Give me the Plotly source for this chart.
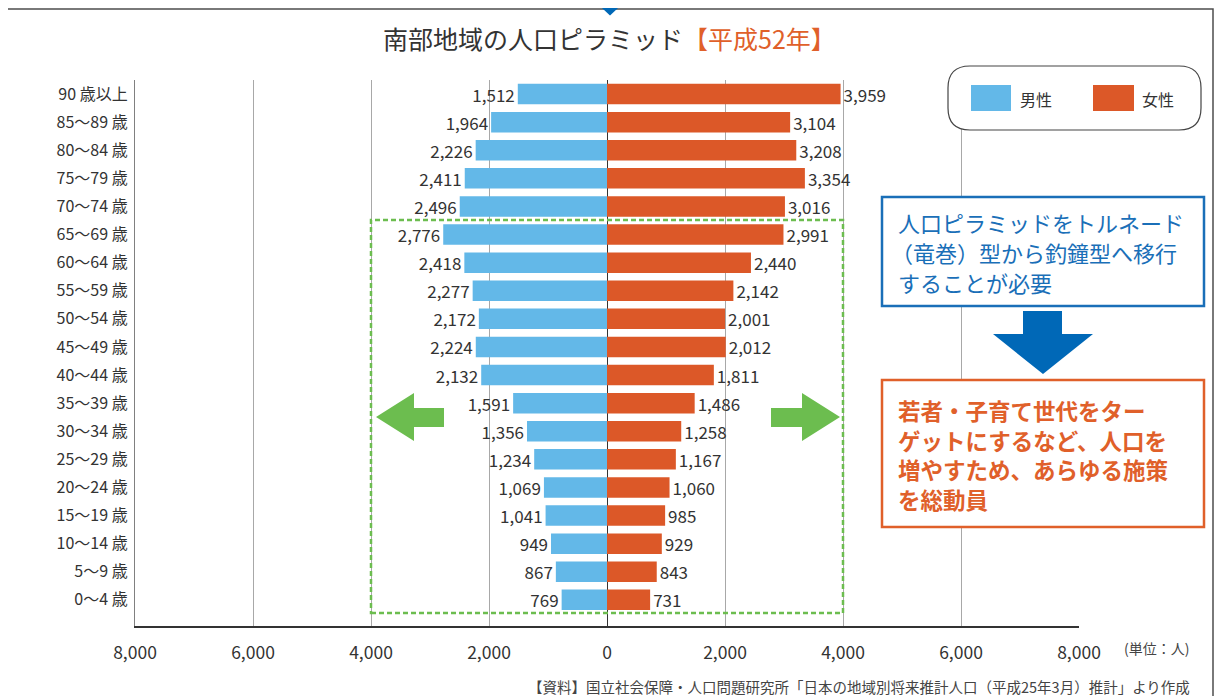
import plotly.graph_objects as go

# ---------------- data ----------------
age_groups = ["90 歳以上", "85〜89 歳", "80〜84 歳", "75〜79 歳", "70〜74 歳",
              "65〜69 歳", "60〜64 歳", "55〜59 歳", "50〜54 歳", "45〜49 歳",
              "40〜44 歳", "35〜39 歳", "30〜34 歳", "25〜29 歳", "20〜24 歳",
              "15〜19 歳", "10〜14 歳", "5〜9 歳", "0〜4 歳"]
male = [1512, 1964, 2226, 2411, 2496, 2776, 2418, 2277, 2172, 2224,
        2132, 1591, 1356, 1234, 1069, 1041, 949, 867, 769]
female = [3959, 3104, 3208, 3354, 3016, 2991, 2440, 2142, 2001, 2012,
          1811, 1486, 1258, 1167, 1060, 985, 929, 843, 731]
x_tickvals = [-8000, -6000, -4000, -2000, 0, 2000, 4000, 6000, 8000]
x_ticktext = ["8,000", "6,000", "4,000", "2,000", "0", "2,000", "4,000", "6,000", "8,000"]
series_names = ["男性", "女性"]

title_main = "南部地域の人口ピラミッド"
title_year = "【平成52年】"
box1_lines = ["人口ピラミッドをトルネード", "（竜巻）型から釣鐘型へ移行", "することが必要"]
box2_lines = ["若者・子育て世代をター", "ゲットにするなど、人口を", "増やすため、あらゆる施策", "を総動員"]
unit_text = "(単位：人)"
source_text = "【資料】国立社会保障・人口問題研究所「日本の地域別将来推計人口（平成25年3月）推計」より作成"

# ---------------- styles ----------------
FONT = "Noto Sans CJK JP, Noto Sans, sans-serif"
BLUE = "#63b8e8"
ORANGE = "#dc5828"
DARK = "#333333"
GRID = "#a8a8a8"
GREEN = "#6cbd4f"
NAVY = "#0068b7"
BOXBLUE = "#1a6fb8"
BOXORANGE = "#e0602a"

OFF = 8  # page body margin
W, H = 1226 - OFF, 696 - OFF
L, R, T, B = 135 - OFF, 147, 80 - OFF, 70
PW, PH = W - L - R, H - T - B


def px(x):
    return (x - OFF - L) / PW


def py(y):
    return (H - B - (y - OFF)) / PH


fig = go.Figure()
fig.add_trace(go.Bar(
    y=age_groups, x=[-v for v in male], orientation="h", name=series_names[0],
    marker=dict(color=BLUE, line=dict(width=0)), width=0.73,
    text=[f"{v:,}" for v in male], textposition="outside", constraintext="none",
    textfont=dict(family=FONT, size=17, color=DARK), cliponaxis=False,
    customdata=male, hovertemplate="%{y}<br>男性: %{customdata:,}<extra></extra>",
    showlegend=False,
))
fig.add_trace(go.Bar(
    y=age_groups, x=female, orientation="h", name=series_names[1],
    marker=dict(color=ORANGE, line=dict(width=0)), width=0.73,
    text=[f"{v:,}" for v in female], textposition="outside", constraintext="none",
    textfont=dict(family=FONT, size=17, color=DARK), cliponaxis=False,
    hovertemplate="%{y}<br>女性: %{x:,}<extra></extra>",
    showlegend=False,
))

shapes = []
# outer frame
shapes.append(dict(type="rect", xref="paper", yref="paper",
                   x0=px(7), x1=px(1213), y0=py(720), y1=py(9),
                   line=dict(color="#4d4d4d", width=1.5), layer="below"))
# blue triangle at top
shapes.append(dict(type="path", xref="paper", yref="paper",
                   path=f"M {px(588)},{py(-5)} L {px(632)},{py(-5)} L {px(610)},{py(15.5)} Z",
                   fillcolor=NAVY, line=dict(width=0), layer="above"))
# white underlay on green box vertical edges (hide grid)
for xv in (-4000, 4000):
    shapes.append(dict(type="line", xref="x", yref="paper", x0=xv, x1=xv,
                       y0=py(613), y1=py(220), line=dict(color="white", width=3),
                       layer="between"))
# green dashed box
shapes.append(dict(type="rect", xref="x", yref="paper", x0=-4000, x1=4000,
                   y0=py(613), y1=py(220),
                   line=dict(color=GREEN, width=2.5, dash="5px,3px"), layer="above"))
# green arrows
shapes.append(dict(type="path", xref="paper", yref="paper",
                   path=(f"M {px(376)},{py(417)} L {px(414)},{py(393)} L {px(414)},{py(408)} "
                         f"L {px(444)},{py(408)} L {px(444)},{py(427)} L {px(414)},{py(427)} "
                         f"L {px(414)},{py(441)} Z"),
                   fillcolor=GREEN, line=dict(width=0), layer="above"))
shapes.append(dict(type="path", xref="paper", yref="paper",
                   path=(f"M {px(840)},{py(417)} L {px(802)},{py(393)} L {px(802)},{py(408)} "
                         f"L {px(771)},{py(408)} L {px(771)},{py(427)} L {px(802)},{py(427)} "
                         f"L {px(802)},{py(441)} Z"),
                   fillcolor=GREEN, line=dict(width=0), layer="above"))

# legend rounded box
x0, x1, y0, y1, r = 948, 1201, 66, 130, 22
rx, ry = r / PW, r / PH
lx0, lx1, ly0, ly1 = px(x0), px(x1), py(y1), py(y0)
shapes.append(dict(type="path", xref="paper", yref="paper",
                   path=(f"M {lx0+rx},{ly1} L {lx1-rx},{ly1} Q {lx1},{ly1} {lx1},{ly1-ry} "
                         f"L {lx1},{ly0+ry} Q {lx1},{ly0} {lx1-rx},{ly0} "
                         f"L {lx0+rx},{ly0} Q {lx0},{ly0} {lx0},{ly0+ry} "
                         f"L {lx0},{ly1-ry} Q {lx0},{ly1} {lx0+rx},{ly1} Z"),
                   fillcolor="white", line=dict(color="#444444", width=1.2), layer="above"))
shapes.append(dict(type="rect", xref="paper", yref="paper",
                   x0=px(971), x1=px(1011), y0=py(111), y1=py(85),
                   fillcolor=BLUE, line=dict(width=0), layer="above"))
shapes.append(dict(type="rect", xref="paper", yref="paper",
                   x0=px(1093), x1=px(1134), y0=py(111), y1=py(85),
                   fillcolor=ORANGE, line=dict(width=0), layer="above"))

# blue text box
shapes.append(dict(type="rect", xref="paper", yref="paper",
                   x0=px(882), x1=px(1204), y0=py(306), y1=py(197),
                   fillcolor="white", line=dict(color=BOXBLUE, width=2.5), layer="above"))
# down arrow
shapes.append(dict(type="path", xref="paper", yref="paper",
                   path=(f"M {px(1023)},{py(311)} L {px(1062)},{py(311)} L {px(1062)},{py(334)} "
                         f"L {px(1093)},{py(334)} L {px(1043)},{py(374)} L {px(993)},{py(334)} "
                         f"L {px(1023)},{py(334)} Z"),
                   fillcolor=NAVY, line=dict(width=0), layer="above"))
# orange text box
shapes.append(dict(type="rect", xref="paper", yref="paper",
                   x0=px(882), x1=px(1204), y0=py(527), y1=py(380),
                   fillcolor="white", line=dict(color=BOXORANGE, width=2.5), layer="above"))

annotations = []
annotations.append(dict(xref="paper", yref="paper", x=px(609), y=py(38),
                        xanchor="center", yanchor="middle", showarrow=False,
                        text=f"{title_main}<span style='color:{BOXORANGE}'>{title_year}</span>",
                        font=dict(family=FONT, size=25, color=DARK)))
annotations.append(dict(xref="paper", yref="paper", x=px(1018), y=py(99),
                        xanchor="left", yanchor="middle", showarrow=False,
                        text=series_names[0], font=dict(family=FONT, size=16, color=DARK)))
annotations.append(dict(xref="paper", yref="paper", x=px(1140), y=py(99),
                        xanchor="left", yanchor="middle", showarrow=False,
                        text=series_names[1], font=dict(family=FONT, size=16, color=DARK)))
box1_x = [896, 889, 896]
for i, line in enumerate(box1_lines):
    annotations.append(dict(xref="paper", yref="paper", x=px(box1_x[i]), y=py(222 + 30 * i),
                            xanchor="left", yanchor="middle", showarrow=False,
                            text=line, font=dict(family=FONT, size=22, color=BOXBLUE)))
for i, line in enumerate(box2_lines):
    annotations.append(dict(xref="paper", yref="paper", x=px(896), y=py(410 + 29.7 * i),
                            xanchor="left", yanchor="middle", showarrow=False,
                            text=f"<b>{line}</b>",
                            font=dict(family=FONT, size=22.5, color=BOXORANGE)))
annotations.append(dict(xref="paper", yref="paper", x=px(1191), y=py(648),
                        xanchor="right", yanchor="middle", showarrow=False,
                        text=unit_text, font=dict(family=FONT, size=14, color="#444444")))
annotations.append(dict(xref="paper", yref="paper", x=px(1192), y=py(686),
                        xanchor="right", yanchor="middle", showarrow=False,
                        text=source_text, font=dict(family=FONT, size=14.5, color="#444444")))

fig.update_layout(
    width=W, height=H,
    margin=dict(l=L, r=R, t=T, b=B),
    paper_bgcolor="white", plot_bgcolor="white",
    barmode="overlay",
    font=dict(family=FONT, color=DARK),
    shapes=shapes, annotations=annotations,
    showlegend=False,
    xaxis=dict(range=[-8000, 8000], tickvals=x_tickvals, ticktext=x_ticktext,
               showgrid=True, gridcolor=GRID, gridwidth=1,
               zeroline=True, zerolinecolor=DARK, zerolinewidth=1.3,
               showline=True, linecolor=DARK, linewidth=1.5,
               ticks="", ticklabelstandoff=10,
               tickfont=dict(family=FONT, size=17.5, color=DARK), fixedrange=True),
    yaxis=dict(type="category", categoryorder="array", categoryarray=age_groups[::-1],
               range=[-0.93, 18.5], showgrid=False, zeroline=False,
               showline=True, linecolor="#808080", linewidth=1.2,
               ticks="", ticklabelstandoff=3,
               tickfont=dict(family=FONT, size=16, color=DARK), fixedrange=True),
)

fig.write_html("out.html")
